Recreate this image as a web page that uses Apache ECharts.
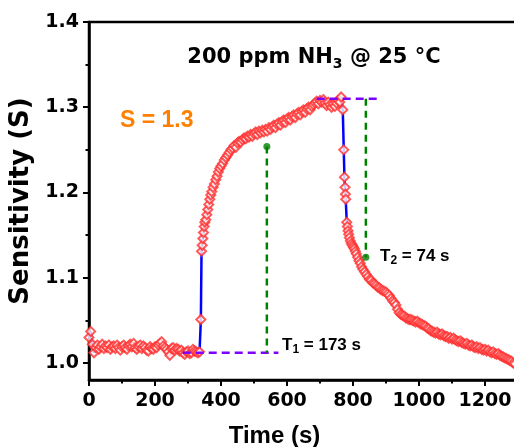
<!DOCTYPE html>
<html><head><meta charset="utf-8">
<script src="https://cdn.jsdelivr.net/npm/echarts@6/dist/echarts.min.js"></script>
<style>html,body{margin:0;padding:0;background:#fff}#c{width:514px;height:447px}</style>
</head><body><div id="c"></div>
<script>
// Time (s)
const timeS = [0,5,10,15,20,25,30,35,40,45,50,55,60,65,70,75,80,85,90,95,100,105,110,115,120,125,130,135,140,145,150,155,160,165,170,175,180,185,190,195,200,205,210,215,220,225,230,235,240,245,250,255,260,265,270,275,280,285,290,295,300,305,310,315,320,325,330,335,
339,341,343,345,347,349,351,354,357,360,363,366,369,372,376,380,384,388,392,396,400,405,410,415,420,425,430,435,440,445,450,455,460,465,470,475,480,485,490,495,500,505,510,515,520,525,530,535,540,545,550,555,560,565,570,575,580,585,590,595,600,605,610,615,620,625,630,635,640,645,650,655,660,665,670,675,680,685,690,695,700,705,710,715,720,725,730,735,740,745,750,755,760,764,
769,772,774,776,777,778,781,783,785,787,789,792,795,798,801,804,807,810,814,818,822,826,830,835,840,845,850,855,860,865,870,875,880,885,890,895,900,905,910,915,920,925,930,935,940,945,950,955,960,965,970,975,980,985,990,995,1000,1005,1010,1015,1020,1025,1030,1035,1040,1045,1050,1055,1060,1065,1070,1075,1080,1085,1090,1095,1100,1105,1110,1115,1120,1125,1130,1135,1140,1145,1150,1155,1160,1165,1170,1175,1180,1185,1190,1195,1200,1205,1210,1215,1220,1225,1230,1235,1240,1245,1250,1255,1260,1265,1270,1275,1280,1285,1290];
// Sensitivity (S)
const sensitivity = [1.030,1.037,1.022,1.012,1.018,1.021,1.016,1.019,1.022,1.017,1.020,1.018,1.021,1.016,1.019,1.020,1.017,1.021,1.018,1.015,1.019,1.021,1.018,1.016,1.020,1.022,1.019,1.023,1.018,1.016,1.019,1.021,1.017,1.020,1.018,1.015,1.014,1.019,1.017,1.016,1.019,1.018,1.021,1.023,1.025,1.020,1.018,1.016,1.013,1.009,1.017,1.018,1.015,1.017,1.016,1.014,1.015,1.012,1.010,1.013,1.014,1.011,1.012,1.016,1.014,1.013,1.012,1.013,
1.051,1.131,1.138,1.146,1.153,1.160,1.165,1.168,1.174,1.180,1.186,1.192,1.197,1.201,1.206,1.210,1.215,1.219,1.224,1.228,1.231,1.234,1.238,1.241,1.244,1.247,1.250,1.252,1.255,1.253,1.258,1.260,1.259,1.262,1.264,1.263,1.266,1.265,1.268,1.266,1.269,1.271,1.268,1.272,1.270,1.273,1.271,1.274,1.272,1.276,1.274,1.277,1.279,1.276,1.280,1.282,1.279,1.283,1.285,1.282,1.286,1.288,1.285,1.289,1.291,1.288,1.292,1.294,1.291,1.295,1.297,1.294,1.298,1.300,1.297,1.301,1.303,1.305,1.307,1.304,1.308,1.306,1.309,1.305,1.302,1.306,1.303,1.300,1.304,1.301,1.305,1.308,1.306,1.312,
1.297,1.250,1.218,1.206,1.198,1.192,1.165,1.160,1.155,1.151,1.147,1.143,1.140,1.138,1.136,1.134,1.131,1.128,1.124,1.120,1.117,1.113,1.110,1.107,1.104,1.101,1.098,1.097,1.094,1.093,1.091,1.089,1.088,1.086,1.085,1.084,1.083,1.081,1.079,1.076,1.073,1.071,1.068,1.063,1.059,1.057,1.056,1.055,1.053,1.052,1.051,1.051,1.050,1.049,1.048,1.049,1.047,1.046,1.045,1.044,1.043,1.041,1.040,1.038,1.037,1.036,1.035,1.036,1.034,1.033,1.034,1.032,1.031,1.031,1.029,1.030,1.028,1.029,1.027,1.026,1.025,1.026,1.024,1.023,1.022,1.023,1.021,1.020,1.021,1.019,1.018,1.019,1.017,1.018,1.016,1.015,1.016,1.014,1.015,1.013,1.012,1.013,1.011,1.010,1.011,1.009,1.008,1.007,1.006,1.005,1.004,1.003,1.002,1.000,0.999];

const xTicks = [0,200,400,600,800,1000,1200];
const xMinorTicks = [100,300,500,700,900,1100];
const yTicks = [1.0,1.1,1.2,1.3,1.4];
const yMinorTicks = [1.05,1.15,1.25,1.35];

const baseLevel = [[284,1.012],[574,1.012]];
const topLevel = [[690,1.310],[882,1.310]];
const t1Guide = [[539,1.254],[539,1.012]];
const t2Guide = [[839,1.310],[839,1.124]];
const guideDots = [[539,1.254],[839,1.124]];

const points = timeS.map((t,i)=>[t, sensitivity[i]]);

const chart = echarts.init(document.getElementById('c'), null, {renderer:'canvas'});
const tickFont = {fontFamily:'DejaVu Sans', fontWeight:'bold', fontSize:19, color:'#000'};
const option = {
  animation:false,
  backgroundColor:'#fff',
  grid:{left:89, top:22, right:-4, bottom:67, show:true, borderColor:'#000', borderWidth:2.5, containLabel:false, outerBoundsMode:'none'},
  xAxis:[{
    type:'value', min:0, max:1300, position:'bottom',
    name:'Time (s)', nameLocation:'middle', nameGap:44,
    nameTextStyle:{fontFamily:'Liberation Sans', fontWeight:'bold', fontSize:24, color:'#000', padding:[0,58,0,0]},
    axisLine:{show:true, onZero:false, lineStyle:{color:'#000', width:2.5}},
    axisTick:{show:true, inside:false, length:6, customValues:xTicks, lineStyle:{color:'#000', width:2}},
    axisLabel:{show:true, margin:12, customValues:xTicks, formatter:v=>String(v), ...tickFont},
    splitLine:{show:false}
  },{
    type:'value', min:0, max:1300, position:'bottom',
    axisLine:{show:false},
    axisTick:{show:true, inside:false, length:3.5, customValues:xMinorTicks, lineStyle:{color:'#000', width:2}},
    axisLabel:{show:false}, splitLine:{show:false}
  }],
  yAxis:[{
    type:'value', min:0.98, max:1.4, position:'left',
    name:'Sensitivity (S)', nameLocation:'middle', nameGap:52, nameRotate:90,
    nameTextStyle:{fontFamily:'DejaVu Sans', fontWeight:'bold', fontSize:26, color:'#000'},
    axisLine:{show:true, onZero:false, lineStyle:{color:'#000', width:2.5}},
    axisTick:{show:true, inside:false, length:6, customValues:yTicks, lineStyle:{color:'#000', width:2}},
    axisLabel:{show:true, margin:10, customValues:yTicks, formatter:v=>Number(v).toFixed(1), ...tickFont},
    splitLine:{show:false}
  },{
    type:'value', min:0.98, max:1.4, position:'left',
    axisLine:{show:false},
    axisTick:{show:true, inside:false, length:3.5, customValues:yMinorTicks, lineStyle:{color:'#000', width:2}},
    axisLabel:{show:false}, splitLine:{show:false}
  }],
  series:[
    {type:'line', data:points, symbol:'none', lineStyle:{color:'#0000ff', width:2.5}, z:2},
    {type:'scatter', data:points, symbol:'emptyDiamond', symbolSize:9,
     itemStyle:{color:'#ff3030', borderColor:'#ff3030', borderWidth:0.9}, z:3},
    {type:'line', data:baseLevel, symbol:'none', lineStyle:{color:'#7f00ff', width:2.5, type:[8,5]}, z:4},
    {type:'line', data:topLevel, symbol:'none', lineStyle:{color:'#7f00ff', width:2.5, type:[8,5]}, z:4},
    {type:'line', data:t1Guide, symbol:'none', lineStyle:{color:'#008000', width:2.5, type:[7,5]}, z:4},
    {type:'line', data:t2Guide, symbol:'none', lineStyle:{color:'#008000', width:2.5, type:[7,5]}, z:4},
    {type:'scatter', data:guideDots, symbol:'circle', symbolSize:7, itemStyle:{color:'#008000'}, z:5}
  ],
  graphic:[
    {type:'text', x:314, y:58, z:10, style:{
      text:'{a|200 ppm NH}{s|3}{a| @ 25 °C}', align:'center', verticalAlign:'middle',
      rich:{a:{fontFamily:'DejaVu Sans', fontWeight:'bold', fontSize:21, fill:'#000', lineHeight:24},
            s:{fontFamily:'DejaVu Sans', fontWeight:'bold', fontSize:14, fill:'#000', lineHeight:24, padding:[12,0,0,0]}}}},
    {type:'text', x:120, y:121, z:10, style:{
      text:'S = 1.3', align:'left', verticalAlign:'middle',
      fontFamily:'Liberation Sans', fontWeight:'bold', fontSize:23, fill:'#ff8000'}},
    {type:'text', x:282, y:345, z:10, style:{
      text:'{a|T}{s|1}{a| = 173 s}', align:'left', verticalAlign:'middle',
      rich:{a:{fontFamily:'Liberation Sans', fontWeight:'bold', fontSize:17, fill:'#000', lineHeight:20},
            s:{fontFamily:'Liberation Sans', fontWeight:'bold', fontSize:12, fill:'#000', lineHeight:20, padding:[9,0,0,0]}}}},
    {type:'text', x:380, y:256, z:10, style:{
      text:'{a|T}{s|2}{a| = 74 s}', align:'left', verticalAlign:'middle',
      rich:{a:{fontFamily:'Liberation Sans', fontWeight:'bold', fontSize:17, fill:'#000', lineHeight:20},
            s:{fontFamily:'Liberation Sans', fontWeight:'bold', fontSize:12, fill:'#000', lineHeight:20, padding:[9,0,0,0]}}}}
  ]
};
chart.setOption(option);
</script>
</body></html>
